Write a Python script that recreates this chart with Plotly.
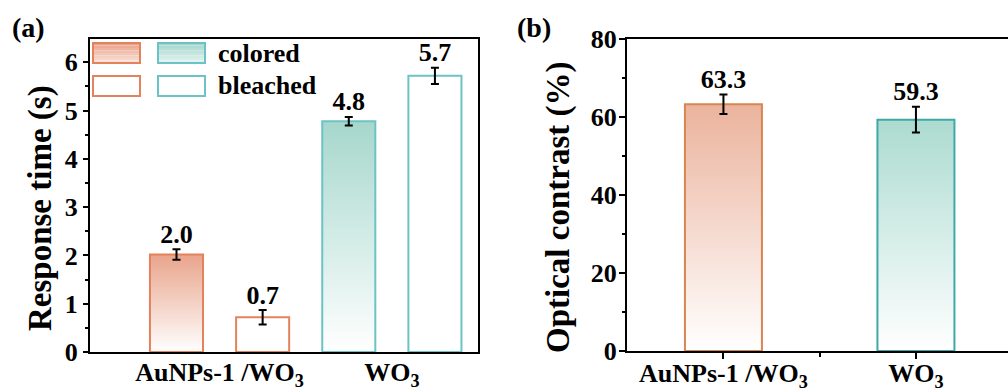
import plotly.graph_objects as go

# ---------------- data ----------------
groups = ["AuNPs-1 /WO<sub>3</sub>", "WO<sub>3</sub>"]
colored_time = [2.02, 4.78]
colored_err = [0.11, 0.09]
bleached_time = [0.72, 5.72]
bleached_err = [0.15, 0.17]
contrast = [63.3, 59.3]
contrast_err = [2.5, 3.3]
legend_labels = ["colored", "bleached"]
y_titles = ["Response time (s)", "Optical contrast (%)"]

# ---------------- styles ----------------
FONT = "Liberation Serif"
W, H = 1030, 392          # page window is 1008 wide; panel (b) runs off the right edge
AU_LINE_A, TEAL_LINE_A = "#e4825d", "#6cc3c5"
AU_TOP_A, TEAL_TOP_A = "#e9a48b", "#a6d7cc"
AU_LINE_B, TEAL_LINE_B = "#d8864f", "#3fa8a8"
AU_TOP_B, TEAL_TOP_B = "#ebb39d", "#acdbd0"

def px(x):
    return x / W

def py(y):
    return 1 - y / H

fig = go.Figure()

idx = list(range(len(groups)))
off_a, wid_a = 0.25, 0.308
wid_b = 0.4

def grad_rect(xc, w, v, top, xa, ya):
    fig.add_trace(go.Scatter(
        x=[xc - w / 2, xc + w / 2, xc + w / 2, xc - w / 2, xc - w / 2],
        y=[0, 0, v, v, 0], mode="lines", fill="toself",
        fillgradient=dict(type="vertical", colorscale=[[0, "#ffffff"], [1, top]]),
        line=dict(width=0, color="rgba(0,0,0,0)"), hoverinfo="skip",
        showlegend=False, xaxis=xa, yaxis=ya))

tops_a = [AU_TOP_A, TEAL_TOP_A]
for i, v in zip(idx, colored_time):
    grad_rect(i - off_a, wid_a, v, tops_a[i], "x", "y")
tops_b = [AU_TOP_B, TEAL_TOP_B]
for i, v in zip(idx, contrast):
    grad_rect(i, wid_b, v, tops_b[i], "x2", "y2")

err_style = dict(type="data", color="black", thickness=2, width=4)
lines_a = [AU_LINE_A, TEAL_LINE_A]

fig.add_trace(go.Bar(
    x=[i - off_a for i in idx], y=colored_time, width=wid_a, name=legend_labels[0],
    marker=dict(color="rgba(0,0,0,0)", line=dict(color=lines_a, width=2)),
    error_y=dict(array=colored_err, **err_style), showlegend=False,
    xaxis="x3", yaxis="y3"))
fig.add_trace(go.Bar(
    x=[i + off_a for i in idx], y=bleached_time, width=wid_a, name=legend_labels[1],
    marker=dict(color="#ffffff", line=dict(color=lines_a, width=2)),
    error_y=dict(array=bleached_err, **err_style), showlegend=False,
    xaxis="x3", yaxis="y3"))

fig.add_trace(go.Bar(
    x=idx, y=contrast, width=wid_b,
    marker=dict(color="rgba(0,0,0,0)", line=dict(color=[AU_LINE_B, TEAL_LINE_B], width=2)),
    error_y=dict(array=contrast_err, **err_style), showlegend=False,
    xaxis="x4", yaxis="y4"))

lab_font = dict(family=FONT, size=26, color="black", weight="bold")
fig.add_trace(go.Scatter(
    x=[i - off_a for i in idx] + [i + off_a for i in idx],
    y=[v + e for v, e in zip(colored_time, colored_err)] + [v + e for v, e in zip(bleached_time, bleached_err)],
    text=[f"{v:.1f}" for v in colored_time + bleached_time],
    mode="text", textposition="top center", textfont=lab_font,
    showlegend=False, hoverinfo="skip", xaxis="x3", yaxis="y3"))
fig.add_trace(go.Scatter(
    x=idx, y=[v + e for v, e in zip(contrast, contrast_err)],
    text=[f"{v:.1f}" for v in contrast],
    mode="text", textposition="top center", textfont=lab_font,
    showlegend=False, hoverinfo="skip", xaxis="x4", yaxis="y4"))

tick_font = dict(family=FONT, size=26, color="black", weight="bold")
title_font = dict(family=FONT, size=33, color="black", weight="bold")

dom_ax = [px(90), px(478)]
dom_ay = [py(352), py(39)]
dom_bx = [px(627), 1.0]
dom_by = [py(351), py(39)]
rng_ax = [-0.752, 1.5]
rng_ay = [0, 6.483]
rng_bx = [-0.501, -0.501 + (W - 627) / 192.5]
rng_by = [0, 80]

common = dict(showgrid=False, zeroline=False, linecolor="black", linewidth=2, automargin=False)
hidden = dict(visible=False, automargin=False, showline=False, showgrid=False, zeroline=False)

fig.update_layout(
    width=W, height=H, margin=dict(l=0, r=0, t=0, b=0, autoexpand=False),
    paper_bgcolor="white", plot_bgcolor="rgba(0,0,0,0)",
    font=dict(family=FONT, color="black", weight="bold"),
    barmode="overlay", showlegend=False,
    xaxis=dict(domain=dom_ax, range=rng_ax, anchor="y", tickmode="array", tickvals=idx,
               ticktext=groups, ticks="", showline=True, mirror=True, tickfont=tick_font,
               ticklabelstandoff=-4, **common),
    yaxis=dict(domain=dom_ay, range=rng_ay, anchor="x", dtick=1, ticks="outside",
               ticklen=5, tickwidth=2, tickcolor="black", showline=True, mirror=True,
               minor=dict(dtick=0.5, ticks="outside", ticklen=3, tickwidth=1.5, tickcolor="black"),
               tickfont=tick_font, **common),
    xaxis3=dict(overlaying="x", range=rng_ax, anchor="y3", **hidden),
    yaxis3=dict(overlaying="y", range=rng_ay, anchor="x3", **hidden),
    xaxis2=dict(domain=dom_bx, range=rng_bx, anchor="y2", tickmode="array", tickvals=idx,
                ticktext=groups, ticks="outside", ticklen=6, tickwidth=2, tickcolor="black",
                minor=dict(tickvals=[0.5], ticks="outside", ticklen=4, tickwidth=1.5, tickcolor="black"),
                showline=True, mirror=True, tickfont=tick_font, ticklabelstandoff=-8, **common),
    yaxis2=dict(domain=dom_by, range=rng_by, anchor="x2", dtick=20, ticks="outside",
                ticklen=6, tickwidth=2, tickcolor="black", showline=True, mirror=False,
                minor=dict(dtick=10, ticks="outside", ticklen=3, tickwidth=1.5, tickcolor="black"),
                tickfont=tick_font, ticklabelstandoff=-3, **common),
    xaxis4=dict(overlaying="x2", range=rng_bx, anchor="y4", **hidden),
    yaxis4=dict(overlaying="y2", range=rng_by, anchor="x4", **hidden),
)

shapes = []
sw_cols = [(93, 140, AU_LINE_A, AU_TOP_A), (158, 205, TEAL_LINE_A, TEAL_TOP_A)]
rows = [(43, 63, True), (76, 96, False)]

def mix(c1, c2, t):
    a = [int(c1[k:k + 2], 16) for k in (1, 3, 5)]
    b = [int(c2[k:k + 2], 16) for k in (1, 3, 5)]
    return "#" + "".join(f"{round(a[j] + (b[j] - a[j]) * t):02x}" for j in range(3))

for (x0, x1, lc, top) in sw_cols:
    for (y0, y1, filled) in rows:
        if filled:
            n = 8
            for k in range(n):
                ya = y0 + (y1 - y0) * k / n
                yb = y0 + (y1 - y0) * (k + 1) / n
                shapes.append(dict(type="rect", xref="paper", yref="paper",
                                   x0=px(x0), x1=px(x1), y0=py(yb), y1=py(ya),
                                   fillcolor=mix(top, "#ffffff", 0.75 * k / n), line=dict(width=0),
                                   layer="above"))
        shapes.append(dict(type="rect", xref="paper", yref="paper",
                           x0=px(x0), x1=px(x1), y0=py(y1), y1=py(y0),
                           fillcolor="rgba(0,0,0,0)", line=dict(color=lc, width=2),
                           layer="above"))
fig.update_layout(shapes=shapes)

ann = []
for lab, (y0, y1, _) in zip(legend_labels, rows):
    ann.append(dict(text=lab, x=px(216), y=py((y0 + y1) / 2), xref="paper", yref="paper",
                    xanchor="left", yanchor="middle", showarrow=False,
                    font=dict(family=FONT, size=26, color="black", weight="bold")))
for t, xc in zip(y_titles, [40, 558]):
    ann.append(dict(text=t, x=px(xc), y=py(208), xref="paper", yref="paper", textangle=-90,
                    xanchor="center", yanchor="middle", showarrow=False, font=title_font))
ann.append(dict(text="(a)", x=px(28), y=py(28), xref="paper", yref="paper",
                xanchor="center", yanchor="middle", showarrow=False,
                font=dict(family=FONT, size=28, color="black", weight="bold")))
ann.append(dict(text="(b)", x=px(534), y=py(28), xref="paper", yref="paper",
                xanchor="center", yanchor="middle", showarrow=False,
                font=dict(family=FONT, size=28, color="black", weight="bold")))
fig.update_layout(annotations=ann)

fig.write_html("out.html", config={"displayModeBar": False},
               post_script=("document.documentElement.style.overflow='hidden';"
                            "document.body.style.overflow='hidden';"
                            "document.body.style.margin='0';"))
